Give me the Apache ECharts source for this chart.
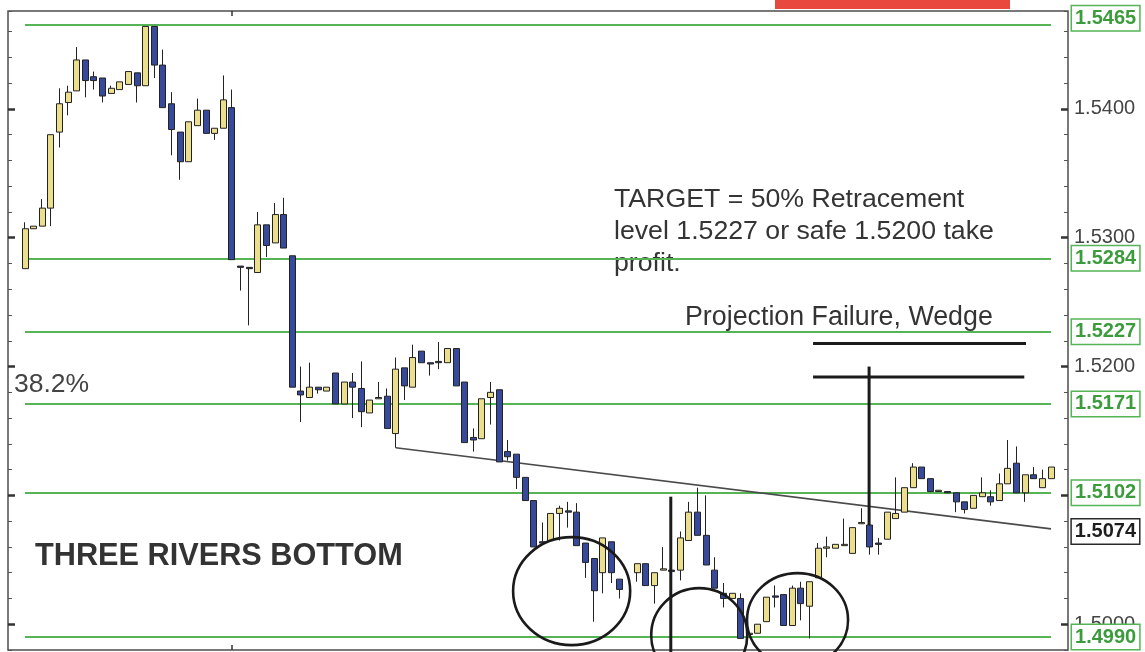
<!DOCTYPE html>
<html>
<head>
<meta charset="utf-8">
<title>Three Rivers Bottom</title>
<script src="https://cdn.jsdelivr.net/npm/echarts@6/dist/echarts.min.js"></script>
<style>
  html, body { margin: 0; padding: 0; background: #ffffff; }
  #chart { width: 1145px; height: 652px; }
</style>
</head>
<body>
<div id="chart"></div>
<script>
// Hourly bars: [open, close, low, high]; '-' marks an empty slot
const candles = [
  [1.5276, 1.5307, 1.5276, 1.5312], [1.5307, 1.5309, 1.5307, 1.5309],
  [1.5309, 1.5323, 1.5309, 1.5330], [1.5323, 1.5380, 1.5309, 1.5380],
  [1.5382, 1.5404, 1.5370, 1.5416], [1.5405, 1.5413, 1.5395, 1.5418],
  [1.5414, 1.5438, 1.5414, 1.5448], [1.5438, 1.5422, 1.5409, 1.5438],
  [1.5425, 1.5422, 1.5415, 1.5429], [1.5424, 1.5410, 1.5405, 1.5424],
  [1.5412, 1.5416, 1.5412, 1.5418], [1.5415, 1.5421, 1.5415, 1.5421],
  [1.5419, 1.5429, 1.5419, 1.5429], [1.5428, 1.5418, 1.5405, 1.5428],
  [1.5418, 1.5464, 1.5418, 1.5464], [1.5464, 1.5434, 1.5424, 1.5464],
  [1.5434, 1.5401, 1.5401, 1.5446], [1.5404, 1.5384, 1.5364, 1.5413],
  [1.5382, 1.5359, 1.5345, 1.5382], [1.5359, 1.5390, 1.5359, 1.5390],
  [1.5387, 1.5399, 1.5387, 1.5408], [1.5399, 1.5381, 1.5381, 1.5399],
  [1.5381, 1.5385, 1.5376, 1.5385], [1.5385, 1.5407, 1.5385, 1.5426],
  [1.5401, 1.5283, 1.5283, 1.5415], [1.5278, 1.5277, 1.5259, 1.5278],
  [1.5277, 1.5276, 1.5232, 1.5277], [1.5273, 1.5310, 1.5273, 1.5320],
  [1.5310, 1.5294, 1.5285, 1.5310], [1.5296, 1.5318, 1.5296, 1.5327],
  [1.5318, 1.5292, 1.5292, 1.5331], [1.5286, 1.5184, 1.5184, 1.5286],
  [1.5181, 1.5178, 1.5157, 1.5200], [1.5176, 1.5184, 1.5176, 1.5203],
  [1.5184, 1.5182, 1.5179, 1.5184], [1.5181, 1.5184, 1.5181, 1.5184],
  [1.5195, 1.5171, 1.5171, 1.5195], [1.5171, 1.5188, 1.5171, 1.5188],
  [1.5188, 1.5184, 1.5160, 1.5195], [1.5183, 1.5165, 1.5153, 1.5204],
  [1.5164, 1.5174, 1.5164, 1.5174], [1.5175, 1.5176, 1.5175, 1.5188],
  [1.5177, 1.5152, 1.5152, 1.5183], [1.5148, 1.5198, 1.5137, 1.5207],
  [1.5199, 1.5185, 1.5174, 1.5199], [1.5184, 1.5207, 1.5184, 1.5217],
  [1.5212, 1.5203, 1.5203, 1.5212], [1.5203, 1.5202, 1.5193, 1.5203],
  [1.5204, 1.5203, 1.5198, 1.5219], [1.5203, 1.5214, 1.5203, 1.5214],
  [1.5214, 1.5185, 1.5185, 1.5214], [1.5188, 1.5141, 1.5141, 1.5188],
  [1.5145, 1.5143, 1.5134, 1.5152], [1.5144, 1.5175, 1.5144, 1.5175],
  [1.5176, 1.5180, 1.5155, 1.5188], [1.5182, 1.5126, 1.5126, 1.5182],
  [1.5134, 1.5130, 1.5127, 1.5143], [1.5132, 1.5114, 1.5105, 1.5132],
  [1.5114, 1.5096, 1.5096, 1.5114], [1.5096, 1.5060, 1.5060, 1.5096],
  [1.5064, 1.5063, 1.5063, 1.5079], [1.5065, 1.5086, 1.5065, 1.5086],
  [1.5086, 1.5090, 1.5065, 1.5092], [1.5088, 1.5087, 1.5075, 1.5095],
  [1.5087, 1.5061, 1.5061, 1.5094], [1.5063, 1.5048, 1.5036, 1.5063],
  [1.5051, 1.5026, 1.5002, 1.5051], [1.5040, 1.5067, 1.5024, 1.5067],
  [1.5064, 1.5040, 1.5032, 1.5064], [1.5035, 1.5027, 1.5020, 1.5035],
  '-',                              [1.5040, 1.5047, 1.5033, 1.5047],
  [1.5047, 1.5030, 1.5030, 1.5047], [1.5030, 1.5040, 1.5016, 1.5040],
  [1.5042, 1.5043, 1.5042, 1.5060], [1.5042, 1.5041, 1.5041, 1.5042],
  [1.5042, 1.5067, 1.5034, 1.5072], [1.5065, 1.5087, 1.5065, 1.5095],
  [1.5087, 1.5069, 1.5069, 1.5106], [1.5069, 1.5046, 1.5046, 1.5100],
  [1.5042, 1.5028, 1.5028, 1.5052], [1.5024, 1.5020, 1.5013, 1.5032],
  [1.5020, 1.5024, 1.5020, 1.5024], [1.5020, 1.4989, 1.4989, 1.5024],
  [1.4992, 1.4993, 1.4992, 1.4993], [1.4993, 1.5000, 1.4993, 1.5000],
  [1.5002, 1.5021, 1.5002, 1.5021], [1.5022, 1.5021, 1.5013, 1.5030],
  [1.5023, 1.4999, 1.4999, 1.5023], [1.4999, 1.5028, 1.4999, 1.5030],
  [1.5028, 1.5016, 1.5003, 1.5033], [1.5014, 1.5033, 1.4989, 1.5033],
  [1.5036, 1.5059, 1.5036, 1.5063], [1.5059, 1.5060, 1.5052, 1.5068],
  [1.5059, 1.5062, 1.5059, 1.5062], [1.5061, 1.5062, 1.5061, 1.5082],
  [1.5055, 1.5075, 1.5055, 1.5075], [1.5078, 1.5079, 1.5078, 1.5090],
  [1.5077, 1.5060, 1.5054, 1.5077], [1.5063, 1.5062, 1.5054, 1.5067],
  [1.5066, 1.5087, 1.5066, 1.5087], [1.5082, 1.5086, 1.5082, 1.5114],
  [1.5087, 1.5106, 1.5087, 1.5106], [1.5106, 1.5122, 1.5106, 1.5125],
  [1.5122, 1.5113, 1.5113, 1.5122], [1.5113, 1.5103, 1.5103, 1.5113],
  [1.5103, 1.5104, 1.5103, 1.5104], [1.5103, 1.5102, 1.5102, 1.5103],
  [1.5102, 1.5095, 1.5087, 1.5102], [1.5095, 1.5089, 1.5086, 1.5095],
  [1.5090, 1.5100, 1.5090, 1.5100], [1.5099, 1.5102, 1.5099, 1.5114],
  [1.5099, 1.5095, 1.5092, 1.5104], [1.5096, 1.5109, 1.5096, 1.5117],
  [1.5109, 1.5121, 1.5109, 1.5143], [1.5125, 1.5102, 1.5102, 1.5138],
  [1.5102, 1.5116, 1.5095, 1.5116], [1.5116, 1.5113, 1.5113, 1.5122],
  [1.5106, 1.5113, 1.5106, 1.5120], [1.5113, 1.5122, 1.5113, 1.5122]
];

// Horizontal support / resistance levels (green)
const levels = [1.5465, 1.5284, 1.5227, 1.5171, 1.5102, 1.4990];

// Falling wedge trendline: [bar index, price] start and end
const trendline = [[43, 1.5137], [119, 1.5074]];

// Hand-drawn projection lines: [x1, price1, x2, price2] in bar units
const projectionLines = [
  [91.4, 1.5218, 116.1, 1.5218],
  [91.4, 1.5192, 115.9, 1.5192],
  [74.9, 1.5099, 74.9, 1.4977],
  [97.9, 1.5200, 97.9, 1.5077]
];

// The three "rivers": [centre bar, centre price, half-width in bars, half-height in price]
const rivers = [
  [63.4, 1.50257, 6.79, 0.00419],
  [78.2, 1.49915, 5.57, 0.00365],
  [89.6, 1.50032, 5.86, 0.00365]
];

// Price axis
const yMin = 1.4980;
const yMax = 1.5476;
const yStep = 0.002;
const yTickLabels = [1.5000, 1.5100, 1.5200, 1.5300, 1.5400];
// Bar index carrying the session tick on the time axis
const sessionTicks = [24];

const FONT = '"Liberation Sans", Arial, Helvetica, sans-serif';
const GREEN = '#56b356';
const GREEN_TEXT = '#3c9c3c';
const BULL = '#ebdf8e';
const BEAR = '#36499b';
const INK = '#222222';

const slots = candles.map((_, i) => i);
const barData = candles.map(c => (c === '-' ? ['-', '-', '-', '-'] : c));

const gridTop = 11;
const gridHeight = 639;
const slotW = 8.622;
const firstCenter = 25;

const isMajor = v => Math.abs(v * 100 - Math.round(v * 100)) < 1e-6;

// The topmost level box sits a little higher, against the frame
const levelLines = levels.map((v, i) => [
  i === 0 ? { coord: [0, v], value: v, label: { offset: [0, -7] } } : { coord: [0, v], value: v },
  { coord: [slots.length - 1, v] }
]);
const trendLine = [
  {
    coord: trendline[0],
    value: trendline[1][1],
    lineStyle: { color: '#4a4a4a', width: 1.6, type: 'solid' },
    label: { color: '#1e1e1e', borderColor: '#2a2a2a' }
  },
  { coord: trendline[1] }
];

const chart = echarts.init(document.getElementById('chart'), null, { renderer: 'canvas' });

const option = {
  animation: false,
  backgroundColor: '#ffffff',
  grid: [
    {
      left: 8, top: gridTop, width: 1060, height: gridHeight,
      show: true, borderColor: '#4d4d4d', borderWidth: 1.5, backgroundColor: 'transparent'
    },
    {
      left: firstCenter - slotW / 2, top: gridTop,
      width: slotW * slots.length, height: gridHeight
    }
  ],
  xAxis: [
    { gridIndex: 0, type: 'value', min: 0, max: 1, show: false },
    { gridIndex: 1, type: 'category', data: slots, boundaryGap: true, show: false },
    {
      gridIndex: 1, type: 'value', min: -0.5, max: slots.length - 0.5, position: 'bottom',
      axisLine: { show: false }, axisLabel: { show: false }, splitLine: { show: false },
      axisTick: { show: true, inside: true, length: 5, customValues: sessionTicks,
        lineStyle: { color: '#333', width: 1.5 } }
    },
    {
      gridIndex: 1, type: 'value', min: -0.5, max: slots.length - 0.5, position: 'top',
      axisLine: { show: false }, axisLabel: { show: false }, splitLine: { show: false },
      axisTick: { show: true, inside: true, length: 5, customValues: sessionTicks,
        lineStyle: { color: '#333', width: 1.5 } }
    }
  ],
  yAxis: [
    {
      gridIndex: 0, type: 'value', position: 'left', min: yMin, max: yMax, interval: yStep,
      axisLine: { show: false }, splitLine: { show: false }, axisLabel: { show: false },
      axisTick: { show: true, inside: true, length: 4, lineStyle: { color: '#555', width: 1 } }
    },
    {
      gridIndex: 0, type: 'value', position: 'right', min: yMin, max: yMax, interval: yStep,
      axisLine: { show: false }, splitLine: { show: false },
      axisTick: { show: true, inside: true, length: 4, lineStyle: { color: '#555', width: 1 } },
      axisLabel: {
        show: true, margin: 6, color: '#454545', fontSize: 20, fontFamily: FONT,
        formatter: v => (isMajor(v) ? v.toFixed(4) : '')
      }
    },
    {
      gridIndex: 0, type: 'value', position: 'left', min: yMin, max: yMax,
      axisLine: { show: false }, splitLine: { show: false }, axisLabel: { show: false },
      axisTick: { show: true, inside: true, length: 7, customValues: yTickLabels,
        lineStyle: { color: '#333', width: 2.5 } }
    },
    {
      gridIndex: 0, type: 'value', position: 'right', min: yMin, max: yMax,
      axisLine: { show: false }, splitLine: { show: false }, axisLabel: { show: false },
      axisTick: { show: true, inside: true, length: 7, customValues: yTickLabels,
        lineStyle: { color: '#333', width: 2.5 } }
    },
    { gridIndex: 1, type: 'value', min: yMin, max: yMax, show: false }
  ],
  series: [
    {
      name: 'GBP/USD',
      type: 'candlestick',
      xAxisIndex: 1,
      yAxisIndex: 4,
      z: 3,
      barWidth: 6.5,
      data: barData,
      itemStyle: {
        color: BULL, color0: BEAR,
        borderColor: INK, borderColor0: INK, borderColorDoji: INK,
        borderWidth: 1
      }
    },
    {
      name: 'projection',
      type: 'custom',
      xAxisIndex: 2,
      yAxisIndex: 4,
      clip: false,
      z: 6,
      silent: true,
      data: projectionLines,
      renderItem: (params, api) => {
        const a = api.coord([api.value(0), api.value(1)]);
        const b = api.coord([api.value(2), api.value(3)]);
        return {
          type: 'line',
          shape: { x1: a[0], y1: a[1], x2: b[0], y2: b[1] },
          style: { stroke: '#1b1b1b', lineWidth: 3 }
        };
      },
      markLine: {
        silent: true,
        z: 1,
        symbol: ['none', 'none'],
        precision: 4,
        lineStyle: { color: GREEN, width: 1.8, type: 'solid' },
        label: {
          show: true,
          position: 'end',
          distance: 21,
          formatter: p => Number(p.value).toFixed(4),
          color: GREEN_TEXT,
          fontFamily: FONT,
          fontSize: 20,
          fontWeight: 'bold',
          lineHeight: 21,
          backgroundColor: '#ffffff',
          borderColor: GREEN,
          borderWidth: 1.5,
          padding: [2, 3, 1, 3]
        },
        emphasis: { disabled: true },
        data: levelLines.concat([trendLine])
      }
    },
    {
      name: 'rivers',
      type: 'custom',
      xAxisIndex: 2,
      yAxisIndex: 4,
      clip: false,
      z: 7,
      silent: true,
      data: rivers,
      renderItem: (params, api) => {
        const c = api.coord([api.value(0), api.value(1)]);
        const s = api.size([api.value(2), api.value(3)]);
        return {
          type: 'ellipse',
          shape: { cx: c[0], cy: c[1], rx: s[0], ry: s[1] },
          style: { fill: 'none', stroke: '#1a1a1a', lineWidth: 2.6 }
        };
      }
    }
  ],
  graphic: [
    { type: 'rect', shape: { x: 775, y: 0, width: 235, height: 9 }, style: { fill: '#e9483e' } },
    {
      type: 'text', left: 614, top: 184,
      style: {
        text: 'TARGET = 50% Retracement\nlevel 1.5227 or safe 1.5200 take\nprofit.',
        font: '26.7px ' + FONT, fill: '#343434', lineHeight: 32
      }
    },
    {
      type: 'text', left: 685, top: 302,
      style: { text: 'Projection Failure, Wedge', font: '26.8px ' + FONT, fill: '#343434', lineHeight: 32 }
    },
    {
      type: 'text', left: 14, top: 369,
      style: { text: '38.2%', font: '26.5px ' + FONT, fill: '#444444', lineHeight: 32 }
    },
    {
      type: 'text', left: 35, top: 541,
      style: { text: 'THREE RIVERS BOTTOM', font: 'bold 30.7px ' + FONT, fill: '#333333', lineHeight: 32 }
    }
  ]
};

chart.setOption(option);
</script>
</body>
</html>
